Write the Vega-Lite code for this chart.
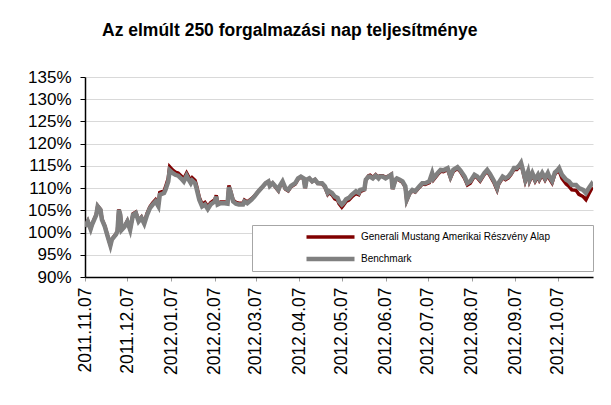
{
  "$schema": "https://vega.github.io/schema/vega-lite/v6.json",
  "width": 508,
  "height": 200,
  "autosize": {"type": "none"},
  "padding": {"left": 85, "top": 77, "right": 18, "bottom": 128},
  "background": "white",
  "title": {
    "text": "Az elmúlt 250 forgalmazási nap teljesítménye",
    "anchor": "start",
    "frame": "group",
    "dx": 17,
    "offset": 15,
    "baseline": "alphabetic",
    "fontSize": 17.5,
    "font": "Liberation Sans",
    "fontWeight": "bold",
    "color": "black"
  },
  "config": {
    "view": {"stroke": null},
    "axis": {"labelFont": "Liberation Sans", "labelColor": "black", "labelFontSize": 17.5},
    "legend": {
      "orient": "none",
      "legendX": 167,
      "legendY": 148,
      "title": null,
      "symbolType": "stroke",
      "symbolSize": 2304,
      "symbolStrokeWidth": 3.5,
      "clipHeight": 12,
      "rowPadding": 10,
      "padding": 6,
      "symbolOffset": 46,
      "labelOffset": 4,
      "labelLimit": 400,
      "labelFont": "Liberation Sans",
      "labelFontSize": 10,
      "labelColor": "black",
      "fillColor": "white",
      "strokeColor": "#a6a6a6"
    }
  },
  "data": {
    "values": [
      {"d": "2011-11-07", "b": 101.3, "f": 101.4},
      {"d": "2011-11-09", "b": 102.5, "f": 102.6},
      {"d": "2011-11-11", "b": 100.8, "f": 100.9},
      {"d": "2011-11-12", "b": 101.8, "f": 101.9},
      {"d": "2011-11-15", "b": 104.0, "f": 104.1},
      {"d": "2011-11-16", "b": 105.9, "f": 106.0},
      {"d": "2011-11-18", "b": 105.1, "f": 105.2},
      {"d": "2011-11-19", "b": 102.9, "f": 103.0},
      {"d": "2011-11-21", "b": 101.4, "f": 101.5},
      {"d": "2011-11-23", "b": 99.2, "f": 99.3},
      {"d": "2011-11-25", "b": 97.1, "f": 97.2},
      {"d": "2011-11-26", "b": 98.4, "f": 98.5},
      {"d": "2011-11-29", "b": 99.6, "f": 99.7},
      {"d": "2011-11-30", "b": 100.3, "f": 100.4},
      {"d": "2011-12-01", "b": 105.1, "f": 105.2},
      {"d": "2011-12-02", "b": 104.0, "f": 104.1},
      {"d": "2011-12-03", "b": 100.6, "f": 100.7},
      {"d": "2011-12-05", "b": 101.3, "f": 101.4},
      {"d": "2011-12-07", "b": 102.5, "f": 102.6},
      {"d": "2011-12-09", "b": 100.6, "f": 100.7},
      {"d": "2011-12-11", "b": 104.0, "f": 104.2},
      {"d": "2011-12-13", "b": 104.4, "f": 104.6},
      {"d": "2011-12-15", "b": 102.5, "f": 102.7},
      {"d": "2011-12-17", "b": 103.3, "f": 103.5},
      {"d": "2011-12-19", "b": 102.0, "f": 102.2},
      {"d": "2011-12-21", "b": 104.0, "f": 104.3},
      {"d": "2011-12-23", "b": 105.5, "f": 105.8},
      {"d": "2011-12-25", "b": 106.3, "f": 106.7},
      {"d": "2011-12-27", "b": 107.0, "f": 107.4},
      {"d": "2011-12-29", "b": 105.9, "f": 106.3},
      {"d": "2011-12-30", "b": 108.5, "f": 109.0},
      {"d": "2012-01-02", "b": 108.9, "f": 109.4},
      {"d": "2012-01-03", "b": 109.6, "f": 110.2},
      {"d": "2012-01-05", "b": 111.5, "f": 112.2},
      {"d": "2012-01-06", "b": 114.0, "f": 114.8},
      {"d": "2012-01-08", "b": 113.4, "f": 114.1},
      {"d": "2012-01-10", "b": 113.0, "f": 113.6},
      {"d": "2012-01-12", "b": 112.8, "f": 113.4},
      {"d": "2012-01-14", "b": 112.2, "f": 112.8},
      {"d": "2012-01-16", "b": 111.5, "f": 112.1},
      {"d": "2012-01-18", "b": 112.8, "f": 113.4},
      {"d": "2012-01-19", "b": 112.2, "f": 112.8},
      {"d": "2012-01-21", "b": 111.1, "f": 111.7},
      {"d": "2012-01-22", "b": 111.7, "f": 112.3},
      {"d": "2012-01-24", "b": 111.1, "f": 111.7},
      {"d": "2012-01-25", "b": 110.0, "f": 110.6},
      {"d": "2012-01-27", "b": 107.4, "f": 107.9},
      {"d": "2012-01-29", "b": 105.9, "f": 106.4},
      {"d": "2012-01-31", "b": 106.3, "f": 106.8},
      {"d": "2012-02-02", "b": 105.3, "f": 105.8},
      {"d": "2012-02-04", "b": 106.3, "f": 106.7},
      {"d": "2012-02-07", "b": 107.0, "f": 107.4},
      {"d": "2012-02-08", "b": 108.1, "f": 108.4},
      {"d": "2012-02-09", "b": 106.3, "f": 106.6},
      {"d": "2012-02-11", "b": 106.6, "f": 106.9},
      {"d": "2012-02-14", "b": 106.6, "f": 106.9},
      {"d": "2012-02-16", "b": 106.5, "f": 106.8},
      {"d": "2012-02-17", "b": 110.2, "f": 110.6},
      {"d": "2012-02-18", "b": 109.3, "f": 109.6},
      {"d": "2012-02-20", "b": 107.0, "f": 107.3},
      {"d": "2012-02-22", "b": 106.5, "f": 106.8},
      {"d": "2012-02-24", "b": 106.3, "f": 106.6},
      {"d": "2012-02-27", "b": 106.3, "f": 106.6},
      {"d": "2012-02-28", "b": 107.0, "f": 107.3},
      {"d": "2012-03-01", "b": 106.6, "f": 106.9},
      {"d": "2012-03-04", "b": 107.4, "f": 107.6},
      {"d": "2012-03-06", "b": 108.1, "f": 108.2},
      {"d": "2012-03-09", "b": 109.3, "f": 109.3},
      {"d": "2012-03-11", "b": 110.0, "f": 110.0},
      {"d": "2012-03-14", "b": 111.1, "f": 111.1},
      {"d": "2012-03-16", "b": 111.5, "f": 111.5},
      {"d": "2012-03-17", "b": 110.5, "f": 110.5},
      {"d": "2012-03-19", "b": 111.1, "f": 111.1},
      {"d": "2012-03-21", "b": 110.4, "f": 110.2},
      {"d": "2012-03-23", "b": 109.6, "f": 109.4},
      {"d": "2012-03-24", "b": 110.5, "f": 110.3},
      {"d": "2012-03-26", "b": 111.5, "f": 111.3},
      {"d": "2012-03-28", "b": 110.0, "f": 109.8},
      {"d": "2012-03-30", "b": 109.6, "f": 109.4},
      {"d": "2012-04-01", "b": 110.5, "f": 110.3},
      {"d": "2012-04-04", "b": 111.1, "f": 110.9},
      {"d": "2012-04-06", "b": 112.2, "f": 112.0},
      {"d": "2012-04-08", "b": 112.6, "f": 112.5},
      {"d": "2012-04-10", "b": 112.2, "f": 112.1},
      {"d": "2012-04-11", "b": 110.0, "f": 110.0},
      {"d": "2012-04-12", "b": 111.9, "f": 111.9},
      {"d": "2012-04-14", "b": 112.2, "f": 112.2},
      {"d": "2012-04-16", "b": 111.5, "f": 111.5},
      {"d": "2012-04-18", "b": 111.9, "f": 111.9},
      {"d": "2012-04-20", "b": 111.1, "f": 111.1},
      {"d": "2012-04-23", "b": 111.1, "f": 111.0},
      {"d": "2012-04-25", "b": 110.4, "f": 110.2},
      {"d": "2012-04-27", "b": 108.9, "f": 108.6},
      {"d": "2012-04-28", "b": 109.3, "f": 109.0},
      {"d": "2012-04-30", "b": 108.9, "f": 108.5},
      {"d": "2012-05-02", "b": 108.1, "f": 107.6},
      {"d": "2012-05-04", "b": 107.8, "f": 107.3},
      {"d": "2012-05-05", "b": 107.0, "f": 106.5},
      {"d": "2012-05-07", "b": 106.3, "f": 105.7},
      {"d": "2012-05-08", "b": 106.6, "f": 106.1},
      {"d": "2012-05-10", "b": 107.5, "f": 107.0},
      {"d": "2012-05-12", "b": 107.8, "f": 107.3},
      {"d": "2012-05-14", "b": 108.5, "f": 108.0},
      {"d": "2012-05-17", "b": 109.3, "f": 108.8},
      {"d": "2012-05-19", "b": 108.9, "f": 108.5},
      {"d": "2012-05-20", "b": 109.6, "f": 109.2},
      {"d": "2012-05-23", "b": 109.8, "f": 109.6},
      {"d": "2012-05-24", "b": 111.9, "f": 111.9},
      {"d": "2012-05-26", "b": 112.6, "f": 112.8},
      {"d": "2012-05-27", "b": 112.6, "f": 112.9},
      {"d": "2012-05-29", "b": 112.2, "f": 112.4},
      {"d": "2012-05-31", "b": 112.8, "f": 113.0},
      {"d": "2012-06-02", "b": 112.2, "f": 112.4},
      {"d": "2012-06-03", "b": 112.6, "f": 112.8},
      {"d": "2012-06-05", "b": 112.6, "f": 112.8},
      {"d": "2012-06-07", "b": 112.2, "f": 112.4},
      {"d": "2012-06-09", "b": 112.6, "f": 112.7},
      {"d": "2012-06-11", "b": 113.0, "f": 113.1},
      {"d": "2012-06-12", "b": 109.8, "f": 109.8},
      {"d": "2012-06-14", "b": 111.9, "f": 111.8},
      {"d": "2012-06-15", "b": 112.2, "f": 112.1},
      {"d": "2012-06-17", "b": 111.9, "f": 111.7},
      {"d": "2012-06-19", "b": 111.5, "f": 111.3},
      {"d": "2012-06-21", "b": 110.4, "f": 110.2},
      {"d": "2012-06-22", "b": 107.4, "f": 107.2},
      {"d": "2012-06-24", "b": 108.9, "f": 108.7},
      {"d": "2012-06-26", "b": 109.6, "f": 109.4},
      {"d": "2012-06-28", "b": 109.3, "f": 109.1},
      {"d": "2012-07-01", "b": 110.4, "f": 110.2},
      {"d": "2012-07-03", "b": 111.1, "f": 110.9},
      {"d": "2012-07-05", "b": 111.1, "f": 110.8},
      {"d": "2012-07-08", "b": 111.5, "f": 111.2},
      {"d": "2012-07-10", "b": 113.4, "f": 113.1},
      {"d": "2012-07-11", "b": 112.2, "f": 111.9},
      {"d": "2012-07-14", "b": 113.4, "f": 113.1},
      {"d": "2012-07-16", "b": 114.1, "f": 113.8},
      {"d": "2012-07-18", "b": 114.0, "f": 113.7},
      {"d": "2012-07-21", "b": 114.5, "f": 114.2},
      {"d": "2012-07-23", "b": 112.6, "f": 112.3},
      {"d": "2012-07-25", "b": 114.1, "f": 113.8},
      {"d": "2012-07-28", "b": 114.7, "f": 114.4},
      {"d": "2012-07-30", "b": 114.0, "f": 113.7},
      {"d": "2012-08-02", "b": 112.6, "f": 112.2},
      {"d": "2012-08-04", "b": 111.1, "f": 110.7},
      {"d": "2012-08-06", "b": 111.5, "f": 111.1},
      {"d": "2012-08-09", "b": 113.0, "f": 112.7},
      {"d": "2012-08-11", "b": 112.6, "f": 112.3},
      {"d": "2012-08-13", "b": 111.9, "f": 111.6},
      {"d": "2012-08-16", "b": 113.4, "f": 113.1},
      {"d": "2012-08-18", "b": 114.1, "f": 113.8},
      {"d": "2012-08-20", "b": 113.2, "f": 112.8},
      {"d": "2012-08-23", "b": 111.5, "f": 111.1},
      {"d": "2012-08-25", "b": 110.0, "f": 109.6},
      {"d": "2012-08-26", "b": 111.1, "f": 110.8},
      {"d": "2012-08-29", "b": 112.6, "f": 112.3},
      {"d": "2012-08-31", "b": 112.2, "f": 111.9},
      {"d": "2012-09-02", "b": 112.6, "f": 112.3},
      {"d": "2012-09-04", "b": 113.4, "f": 113.1},
      {"d": "2012-09-06", "b": 114.5, "f": 114.2},
      {"d": "2012-09-08", "b": 114.5, "f": 114.2},
      {"d": "2012-09-10", "b": 115.2, "f": 114.9},
      {"d": "2012-09-11", "b": 115.7, "f": 115.4},
      {"d": "2012-09-12", "b": 114.5, "f": 114.2},
      {"d": "2012-09-14", "b": 111.9, "f": 111.5},
      {"d": "2012-09-16", "b": 113.7, "f": 113.3},
      {"d": "2012-09-17", "b": 111.9, "f": 111.5},
      {"d": "2012-09-19", "b": 113.4, "f": 113.0},
      {"d": "2012-09-21", "b": 111.9, "f": 111.5},
      {"d": "2012-09-23", "b": 113.0, "f": 112.6},
      {"d": "2012-09-24", "b": 112.2, "f": 111.8},
      {"d": "2012-09-26", "b": 113.4, "f": 113.0},
      {"d": "2012-09-28", "b": 112.2, "f": 111.8},
      {"d": "2012-09-30", "b": 113.4, "f": 113.0},
      {"d": "2012-10-01", "b": 112.6, "f": 112.2},
      {"d": "2012-10-03", "b": 111.6, "f": 111.2},
      {"d": "2012-10-05", "b": 113.5, "f": 113.2},
      {"d": "2012-10-07", "b": 114.1, "f": 113.8},
      {"d": "2012-10-08", "b": 114.5, "f": 113.9},
      {"d": "2012-10-10", "b": 113.0, "f": 112.2},
      {"d": "2012-10-13", "b": 111.9, "f": 110.9},
      {"d": "2012-10-15", "b": 111.5, "f": 110.4},
      {"d": "2012-10-17", "b": 110.7, "f": 109.6},
      {"d": "2012-10-20", "b": 110.7, "f": 109.5},
      {"d": "2012-10-22", "b": 110.0, "f": 108.6},
      {"d": "2012-10-25", "b": 109.6, "f": 108.1},
      {"d": "2012-10-27", "b": 108.9, "f": 107.4},
      {"d": "2012-10-29", "b": 110.0, "f": 108.7},
      {"d": "2012-10-31", "b": 110.9, "f": 109.9},
      {"d": "2012-11-01", "b": 110.4, "f": 109.6}
    ]
  },
  "transform": [{"fold": ["f", "b"], "as": ["k", "v"]}],
  "mark": {"type": "line", "clip": true},
  "encoding": {
    "x": {
      "field": "d",
      "type": "temporal",
      "scale": {
        "type": "utc",
        "domain": [
          {"year": 2011, "month": 11, "date": 7, "utc": true},
          {"year": 2012, "month": 11, "date": 1, "utc": true}
        ]
      },
      "axis": {
        "title": null,
        "grid": false,
        "format": "%Y.%m.%d",
        "labelAngle": -90,
        "labelOverlap": false,
        "labelPadding": 6,
        "tickColor": "#a0a0a0",
        "tickSize": 4,
        "domainColor": "black",
        "domainWidth": 1.5,
        "values": [
          {"year": 2011, "month": 11, "date": 7, "utc": true},
          {"year": 2011, "month": 12, "date": 7, "utc": true},
          {"year": 2012, "month": 1, "date": 7, "utc": true},
          {"year": 2012, "month": 2, "date": 7, "utc": true},
          {"year": 2012, "month": 3, "date": 7, "utc": true},
          {"year": 2012, "month": 4, "date": 7, "utc": true},
          {"year": 2012, "month": 5, "date": 7, "utc": true},
          {"year": 2012, "month": 6, "date": 7, "utc": true},
          {"year": 2012, "month": 7, "date": 7, "utc": true},
          {"year": 2012, "month": 8, "date": 7, "utc": true},
          {"year": 2012, "month": 9, "date": 7, "utc": true},
          {"year": 2012, "month": 10, "date": 7, "utc": true}
        ]
      }
    },
    "y": {
      "field": "v",
      "type": "quantitative",
      "scale": {"domain": [90, 135], "nice": false, "zero": false},
      "axis": {
        "title": null,
        "values": [90, 95, 100, 105, 110, 115, 120, 125, 130, 135],
        "labelExpr": "datum.value + '%'",
        "labelOverlap": false,
        "labelFontSize": 17,
        "grid": true,
        "gridColor": "#d9d9d9",
        "gridWidth": 1,
        "tickColor": "black",
        "tickSize": 5,
        "labelPadding": 9,
        "domainColor": "black",
        "domainWidth": 1.5
      }
    },
    "color": {
      "field": "k",
      "type": "nominal",
      "scale": {"domain": ["f", "b"], "range": ["#800000", "#808080"]},
      "legend": {
        "labelExpr": "(datum.value === 'f' ? 'Generali Mustang Amerikai Részvény Alap' : 'Benchmark') + '\u2800\u2800\u2800\u2800\u2800'",
        "encode": {
          "symbols": {
            "update": {"strokeWidth": {"signal": "datum.value === 'b' ? 4.5 : 3.5"}}
          }
        }
      }
    },
    "strokeWidth": {
      "field": "k",
      "type": "nominal",
      "scale": {"domain": ["f", "b"], "range": [3.5, 4.5]},
      "legend": null
    }
  }
}
